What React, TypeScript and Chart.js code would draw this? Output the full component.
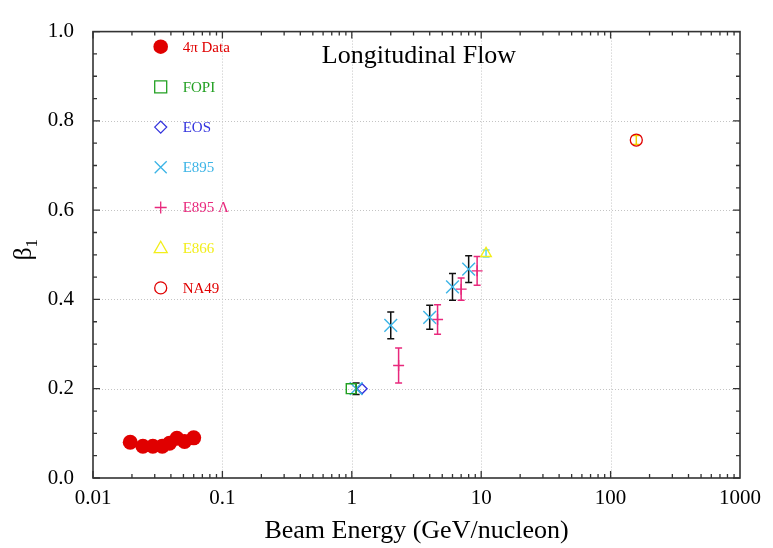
import React, { useEffect, useRef } from "react";
import { Chart, registerables } from "chart.js";

Chart.register(...registerables);

// ---------------- data ----------------
const fourPiX = [0.0194, 0.0243, 0.029, 0.0343, 0.039, 0.0445, 0.051, 0.06];
const fourPiY = [0.08, 0.071, 0.071, 0.071, 0.078, 0.089, 0.082, 0.09];

const fopiX = [0.99];
const fopiY = [0.2];

const eosX = [1.2];
const eosY = [0.2];

const e895X = [1.08, 2.0, 4.0, 6.0, 8.0];
const e895Y = [0.2, 0.342, 0.36, 0.428, 0.468];
const e895Err = [0.013, 0.03, 0.027, 0.03, 0.03];

const lambdaX = [2.3, 4.6, 7.0, 9.3];
const lambdaY = [0.252, 0.355, 0.423, 0.464];
const lambdaErr = [0.039, 0.033, 0.025, 0.032];

const e866X = [10.9];
const e866Y = [0.503];
const e866Err = [0.008];

const na49X = [158];
const na49Y = [0.757];
const na49Err = [0.01];

const xTickLabels = ["0.01", "0.1", "1", "10", "100", "1000"];
const yTickValues = [0, 0.2, 0.4, 0.6, 0.8, 1.0];

const legendLabels = ["4\u03c0 Data", "FOPI", "EOS", "E895", "E895 \u039b", "E866", "NA49"];
const chartTitle = "Longitudinal Flow";
const xTitle = "Beam Energy (GeV/nucleon)";

// ---------------- styles ----------------
const RED = "#e00000";
const GREEN = "#22a022";
const BLUE = "#3333dd";
const CYAN = "#3cb4e6";
const PINK = "#e8287c";
const YELLOW = "#f2ee1a";
const SERIF = "'Liberation Serif', 'Times New Roman', serif";

const pts = (xs: number[], ys: number[]) => xs.map((x, i) => ({ x, y: ys[i] }));

type Marker = "fcircle" | "square" | "diamond" | "x" | "plus" | "triangle" | "circle";

function drawMarker(ctx: CanvasRenderingContext2D, kind: Marker, x: number, y: number, s: number, color: string) {
  ctx.save();
  ctx.strokeStyle = color;
  ctx.fillStyle = color;
  ctx.lineWidth = 1.3;
  ctx.beginPath();
  switch (kind) {
    case "fcircle":
      ctx.arc(x, y, s, 0, Math.PI * 2);
      ctx.fill();
      break;
    case "square":
      ctx.rect(x - s, y - s, 2 * s, 2 * s);
      ctx.stroke();
      break;
    case "diamond":
      ctx.moveTo(x - s, y);
      ctx.lineTo(x, y - s);
      ctx.lineTo(x + s, y);
      ctx.lineTo(x, y + s);
      ctx.closePath();
      ctx.stroke();
      break;
    case "x":
      ctx.moveTo(x - s, y - s);
      ctx.lineTo(x + s, y + s);
      ctx.moveTo(x - s, y + s);
      ctx.lineTo(x + s, y - s);
      ctx.stroke();
      break;
    case "plus":
      ctx.moveTo(x - s, y);
      ctx.lineTo(x + s, y);
      ctx.moveTo(x, y - s);
      ctx.lineTo(x, y + s);
      ctx.stroke();
      break;
    case "triangle":
      ctx.moveTo(x, y - s);
      ctx.lineTo(x + s, y + s * 0.75);
      ctx.lineTo(x - s, y + s * 0.75);
      ctx.closePath();
      ctx.stroke();
      break;
    case "circle":
      ctx.arc(x, y, s, 0, Math.PI * 2);
      ctx.stroke();
      break;
  }
  ctx.restore();
}

const errorSets = [
  { xs: e895X, ys: e895Y, err: e895Err, color: "#111111" },
  { xs: lambdaX, ys: lambdaY, err: lambdaErr, color: PINK },
  { xs: e866X, ys: e866Y, err: e866Err, color: "#55d8f0" },
  { xs: na49X, ys: na49Y, err: na49Err, color: "#f0d000" },
];

const frameGridPlugin = {
  id: "frameGrid",
  beforeDatasetsDraw(chart: any) {
    const { ctx, chartArea: a, scales } = chart;
    const xs = scales.x;
    const ys = scales.y;
    ctx.save();
    ctx.strokeStyle = "#c4c4c4";
    ctx.lineWidth = 1;
    ctx.setLineDash([1, 2]);
    for (let e = -1; e <= 2; e++) {
      const px = Math.round(xs.getPixelForValue(Math.pow(10, e))) + 0.5;
      ctx.beginPath();
      ctx.moveTo(px, a.top);
      ctx.lineTo(px, a.bottom);
      ctx.stroke();
    }
    for (let i = 1; i < yTickValues.length - 1; i++) {
      const py = Math.round(ys.getPixelForValue(yTickValues[i])) + 0.5;
      ctx.beginPath();
      ctx.moveTo(a.left, py);
      ctx.lineTo(a.right, py);
      ctx.stroke();
    }
    ctx.setLineDash([]);
    // error bars
    for (const s of errorSets) {
      ctx.strokeStyle = s.color;
      ctx.lineWidth = 1.5;
      s.xs.forEach((xv, i) => {
        const px = xs.getPixelForValue(xv);
        const top = ys.getPixelForValue(s.ys[i] + s.err[i]);
        const bot = ys.getPixelForValue(s.ys[i] - s.err[i]);
        ctx.beginPath();
        ctx.moveTo(px, top);
        ctx.lineTo(px, bot);
        ctx.moveTo(px - 3.5, top);
        ctx.lineTo(px + 3.5, top);
        ctx.moveTo(px - 3.5, bot);
        ctx.lineTo(px + 3.5, bot);
        ctx.stroke();
      });
    }
    ctx.restore();
  },
  afterDatasetsDraw(chart: any) {
    const { ctx, chartArea: a, scales } = chart;
    const xs = scales.x;
    const ys = scales.y;
    ctx.save();
    // frame
    ctx.strokeStyle = "#333333";
    ctx.lineWidth = 1.6;
    ctx.strokeRect(a.left, a.top, a.right - a.left, a.bottom - a.top);
    ctx.lineWidth = 1.3;
    // x ticks (bottom and top, inward)
    for (let e = -2; e <= 2; e++) {
      for (let m = 1; m <= 9; m++) {
        const v = m * Math.pow(10, e);
        const px = xs.getPixelForValue(v);
        const len = m === 1 ? 7 : 4;
        ctx.beginPath();
        ctx.moveTo(px, a.bottom);
        ctx.lineTo(px, a.bottom - len);
        ctx.moveTo(px, a.top);
        ctx.lineTo(px, a.top + len);
        ctx.stroke();
      }
    }
    // y ticks
    for (let k = 0; k <= 20; k++) {
      const v = k * 0.05;
      const py = ys.getPixelForValue(v);
      const len = k % 4 === 0 ? 7 : 4;
      ctx.beginPath();
      ctx.moveTo(a.left, py);
      ctx.lineTo(a.left + len, py);
      ctx.moveTo(a.right, py);
      ctx.lineTo(a.right - len, py);
      ctx.stroke();
    }
    // title
    ctx.fillStyle = "#000";
    ctx.font = `26px ${SERIF}`;
    ctx.textAlign = "center";
    ctx.textBaseline = "alphabetic";
    ctx.fillText(chartTitle, 419, 63);
    // x title
    ctx.fillText(xTitle, (a.left + a.right) / 2, 538);
    // y title beta_1 rotated
    ctx.save();
    ctx.translate(31, 250);
    ctx.rotate(-Math.PI / 2);
    ctx.textAlign = "left";
    ctx.font = `26px ${SERIF}`;
    const bw = ctx.measureText("\u03b2").width;
    ctx.fillText("\u03b2", -bw / 2 - 4, 0);
    ctx.font = `17px ${SERIF}`;
    ctx.fillText("1", bw / 2 - 4, 6);
    ctx.restore();
    // legend
    const markers: Marker[] = ["fcircle", "square", "diamond", "x", "plus", "triangle", "circle"];
    const colors = [RED, GREEN, BLUE, CYAN, PINK, YELLOW, RED];
    const sizes = [7.3, 6, 6, 6, 6, 6.5, 6];
    ctx.font = `15px ${SERIF}`;
    ctx.textAlign = "left";
    ctx.textBaseline = "middle";
    legendLabels.forEach((lab, i) => {
      const y = 46.7 + i * 40.2;
      drawMarker(ctx, markers[i], 160.7, y, sizes[i], colors[i]);
      ctx.fillStyle = colors[i];
      ctx.fillText(lab, 182.7, y + 1);
    });
    ctx.restore();
  },
};

export default function App() {
  const ref = useRef<HTMLCanvasElement | null>(null);
  useEffect(() => {
    if (!ref.current) return;
    const chart = new Chart(ref.current, {
      type: "scatter",
      data: {
        datasets: [
          {
            label: legendLabels[0],
            data: pts(fourPiX, fourPiY),
            pointStyle: "circle",
            pointRadius: 7.5,
            backgroundColor: RED,
            borderColor: RED,
            borderWidth: 0,
          },
          {
            label: legendLabels[1],
            data: pts(fopiX, fopiY),
            pointStyle: "rect",
            pointRadius: 7,
            backgroundColor: "rgba(0,0,0,0)",
            borderColor: GREEN,
            borderWidth: 1.4,
          },
          {
            label: legendLabels[3],
            data: pts(e895X, e895Y),
            pointStyle: "crossRot",
            pointRadius: 9,
            backgroundColor: "rgba(0,0,0,0)",
            borderColor: CYAN,
            borderWidth: 1.4,
          },
          {
            label: legendLabels[2],
            data: pts(eosX, eosY),
            pointStyle: "rectRot",
            pointRadius: 5,
            backgroundColor: "rgba(0,0,0,0)",
            borderColor: BLUE,
            borderWidth: 1.4,
          },
          {
            label: legendLabels[4],
            data: pts(lambdaX, lambdaY),
            pointStyle: "cross",
            pointRadius: 5.5,
            backgroundColor: "rgba(0,0,0,0)",
            borderColor: PINK,
            borderWidth: 1.4,
          },
          {
            label: legendLabels[5],
            data: pts(e866X, e866Y),
            pointStyle: "triangle",
            pointRadius: 6,
            backgroundColor: "rgba(0,0,0,0)",
            borderColor: YELLOW,
            borderWidth: 1.4,
          },
          {
            label: legendLabels[6],
            data: pts(na49X, na49Y),
            pointStyle: "circle",
            pointRadius: 6,
            backgroundColor: "rgba(0,0,0,0)",
            borderColor: RED,
            borderWidth: 1.3,
          },
        ],
      },
      options: {
        responsive: false,
        animation: false,
        layout: { padding: { left: 0, right: 33, top: 15, bottom: 0 } },
        plugins: {
          legend: { display: false },
          title: { display: false },
          tooltip: { enabled: false },
        },
        scales: {
          x: {
            type: "logarithmic",
            min: 0.01,
            max: 1000,
            grid: { display: false, drawTicks: false },
            border: { display: false },
            afterFit: (s: any) => {
              s.height = 70;
            },
            ticks: {
              autoSkip: false,
              maxRotation: 0,
              padding: 8,
              color: "#000",
              font: { family: SERIF, size: 21 },
              callback: (value: any) => {
                const v = Number(value);
                const lg = Math.log10(v);
                const r = Math.round(lg);
                if (Math.abs(lg - r) < 1e-6) return xTickLabels[r + 2];
                return "";
              },
            },
          },
          y: {
            type: "linear",
            min: 0,
            max: 1,
            grid: { display: false, drawTicks: false },
            border: { display: false },
            afterFit: (s: any) => {
              s.width = 93;
            },
            afterBuildTicks: (s: any) => {
              s.ticks = yTickValues.map((v) => ({ value: v }));
            },
            ticks: {
              padding: 19,
              color: "#000",
              font: { family: SERIF, size: 21 },
              callback: (value: any) => Number(value).toFixed(1),
            },
          },
        },
      },
      plugins: [frameGridPlugin],
    });
    return () => chart.destroy();
  }, []);
  return (
    <div style={{ position: "absolute", left: 0, top: 0, width: 773, height: 548, background: "#fff" }}>
      <canvas ref={ref} width={773} height={548} style={{ display: "block" }} />
    </div>
  );
}
